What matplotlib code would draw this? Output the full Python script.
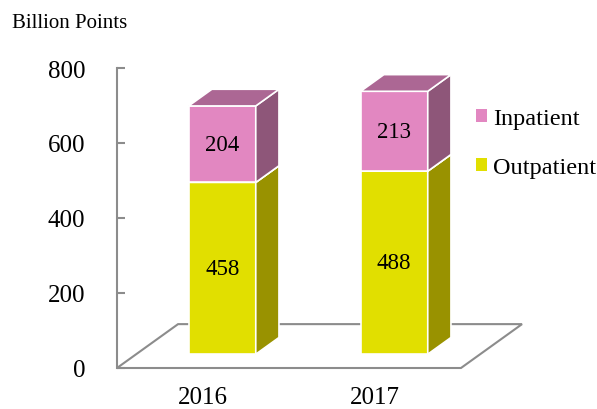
import matplotlib
matplotlib.use("Agg")
import matplotlib.pyplot as plt
from matplotlib.patches import Polygon, Patch

plt.rcParams['font.family'] = ['Liberation Serif', 'DejaVu Serif']

# values in billion points
years = ['2016', '2017']
outpatient = [458, 488]
inpatient = [204, 213]

# colours: front, side, top
out_colors = ('#E1DF00', '#999200', '#B5B300')
in_colors = ('#E287C1', '#8E5679', '#AC6794')
grey = '#8C8C8C'

# depth of the floor in data units (x in categories, y in points)
DX, DY = 0.355, 117.0
F0, F1 = 0.315, 0.695   # front and back of the bars as fraction of floor depth
half_w = 0.195


def proj(x, v, f):
    return (x + f * DX, v + f * DY)


fig = plt.figure(figsize=(5.97, 4.10), dpi=100)
ax = fig.add_axes([117 / 597, 41 / 410, 404 / 597, 300 / 410])
ax.set_xlim(-0.5, 1.849)
ax.set_ylim(0, 800)

# floor
n = len(years)
floor = [proj(-0.5, 0, 0), proj(n - 0.5, 0, 0), proj(n - 0.5, 0, 1), proj(-0.5, 0, 1)]
ax.add_patch(Polygon(floor, closed=True, facecolor='white', edgecolor=grey,
                     linewidth=1.5, zorder=1, clip_on=False))


def box(c, bottom, top, colors):
    l, r = c - half_w, c + half_w
    front = [proj(l, bottom, F0), proj(r, bottom, F0), proj(r, top, F0), proj(l, top, F0)]
    side = [proj(r, bottom, F0), proj(r, bottom, F1), proj(r, top, F1), proj(r, top, F0)]
    lid = [proj(l, top, F0), proj(r, top, F0), proj(r, top, F1), proj(l, top, F1)]
    for pts, col in zip((front, side, lid), colors):
        ax.add_patch(Polygon(pts, closed=True, facecolor=col, edgecolor='white',
                             linewidth=1.2, zorder=3, clip_on=False))
    cx, cy = proj(c, (bottom + top) / 2, F0)
    ax.text(cx, cy, str(top - bottom), ha='center', va='center', fontsize=16.5, zorder=4)


for i in range(n):
    box(i, 0, outpatient[i], out_colors)
    box(i, outpatient[i], outpatient[i] + inpatient[i], in_colors)

# axes styling
for s in ('top', 'right', 'bottom'):
    ax.spines[s].set_visible(False)
ax.spines['left'].set_color(grey)
ax.spines['left'].set_linewidth(1.5)
ax.set_yticks([0, 200, 400, 600, 800])
ax.tick_params(axis='y', direction='in', length=6, width=1.5, color=grey,
               labelsize=18, pad=23)
ax.set_xticks(range(n))
ax.set_xticklabels(years)
ax.tick_params(axis='x', length=0, labelsize=18, pad=13)
ax.patch.set_visible(False)

fig.text(12 / 597, 1 - 23 / 410, 'Billion Points', fontsize=15, va='center')

handles = [Patch(facecolor=in_colors[0], label='Inpatient'),
           Patch(facecolor=out_colors[0], label='Outpatient')]
fig.legend(handles=handles, loc='upper left', bbox_to_anchor=(476 / 597, 1 - 109 / 410),
           frameon=False, fontsize=17.5, handlelength=0.45, handleheight=0.45,
           handletextpad=0.25, labelspacing=1.16, borderpad=0, borderaxespad=0)

fig.savefig('out.png', dpi=100)
